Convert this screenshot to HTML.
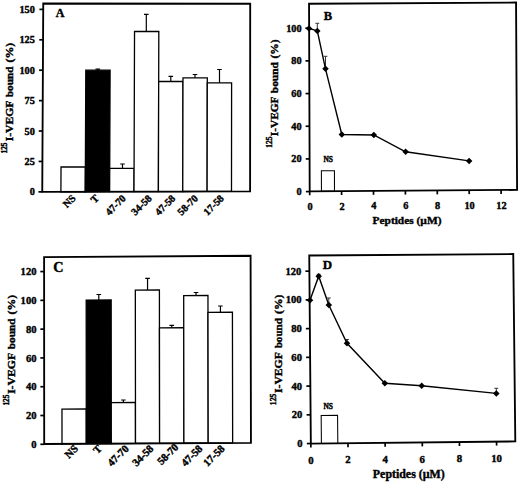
<!DOCTYPE html>
<html><head><meta charset="utf-8"><title>Figure</title>
<style>html,body{margin:0;padding:0;background:#fff;overflow:hidden}svg{display:block}text{font-family:"Liberation Serif",serif;font-weight:bold;fill:#000;stroke:#000;stroke-width:.4px}</style>
</head><body>
<svg width="520" height="482" viewBox="0 0 520 482">
<rect x="0" y="0" width="520" height="482" fill="#fff"/>
<path d="M97.8 71.2V69.2M95.5 69.2H100.1" stroke="#000" stroke-width="1.2" fill="none"/>
<path d="M122.5 169.3V164M120.2 164H124.8" stroke="#000" stroke-width="1.2" fill="none"/>
<path d="M146.3 32.5V14.3M144 14.3H148.6" stroke="#000" stroke-width="1.2" fill="none"/>
<path d="M170.8 82.5V76.3M168.5 76.3H173.1" stroke="#000" stroke-width="1.2" fill="none"/>
<path d="M195 78.8V74.5M192.7 74.5H197.3" stroke="#000" stroke-width="1.2" fill="none"/>
<path d="M219.5 83.8V69.5M217.2 69.5H221.8" stroke="#000" stroke-width="1.2" fill="none"/>
<polygon points="60.9,191.81 61.02,167.02 85.38,166.98 85.27,191.75" fill="#fff" stroke="#000" stroke-width="1.3"/>
<polygon points="85.27,191.75 85.8,70.2 110.1,70.2 109.64,191.69" fill="#000" stroke="#000" stroke-width="1.3"/>
<polygon points="109.64,191.69 109.73,168.32 134.09,168.28 134.01,191.63" fill="#fff" stroke="#000" stroke-width="1.3"/>
<polygon points="134.01,191.63 134.53,31.49 158.81,31.51 158.39,191.57" fill="#fff" stroke="#000" stroke-width="1.3"/>
<polygon points="158.39,191.57 158.68,81.5 182.99,81.5 182.76,191.51" fill="#fff" stroke="#000" stroke-width="1.3"/>
<polygon points="182.76,191.51 182.99,77.8 207.3,77.8 207.13,191.45" fill="#fff" stroke="#000" stroke-width="1.3"/>
<polygon points="207.13,191.45 207.29,82.8 231.6,82.8 231.5,191.39" fill="#fff" stroke="#000" stroke-width="1.3"/>
<polygon points="43.25,3.5 250.2,3.75 250.1,191.35 42.25,191.85" fill="none" stroke="#000" stroke-width="1.85" stroke-linejoin="miter"/>
<line x1="38.45" y1="191.85" x2="42.25" y2="191.85" stroke="#000" stroke-width="1.7"/>
<text x="34.9" y="195.33" font-size="10.3" text-anchor="end">0</text>
<line x1="38.61" y1="161.44" x2="42.41" y2="161.44" stroke="#000" stroke-width="1.7"/>
<text x="34.9" y="164.92" font-size="10.3" text-anchor="end">25</text>
<line x1="38.77" y1="131.03" x2="42.57" y2="131.03" stroke="#000" stroke-width="1.7"/>
<text x="34.9" y="134.51" font-size="10.3" text-anchor="end">50</text>
<line x1="38.93" y1="100.62" x2="42.73" y2="100.62" stroke="#000" stroke-width="1.7"/>
<text x="34.9" y="104.1" font-size="10.3" text-anchor="end">75</text>
<line x1="39.1" y1="70.21" x2="42.9" y2="70.21" stroke="#000" stroke-width="1.7"/>
<text x="34.9" y="73.69" font-size="10.3" text-anchor="end">100</text>
<line x1="39.26" y1="39.8" x2="43.06" y2="39.8" stroke="#000" stroke-width="1.7"/>
<text x="34.9" y="43.28" font-size="10.3" text-anchor="end">125</text>
<line x1="39.42" y1="9.39" x2="43.22" y2="9.39" stroke="#000" stroke-width="1.7"/>
<text x="34.9" y="12.87" font-size="10.3" text-anchor="end">150</text>
<g transform="translate(12.8,0) rotate(-90)" font-size="11.3">
<text x="-153.5" y="-5.9" font-size="7.3" textLength="11" lengthAdjust="spacingAndGlyphs">125</text>
<text x="-141.3" y="0" textLength="40.6" lengthAdjust="spacingAndGlyphs">I-VEGF</text>
<text x="-97.2" y="0" textLength="30.7" lengthAdjust="spacingAndGlyphs">bound</text>
<text x="-62.5" y="0" textLength="19.8" lengthAdjust="spacingAndGlyphs">(%)</text>
</g>
<text x="55.8" y="16.8" font-size="12">A</text>
<text transform="translate(76.2,199) rotate(-45)" font-size="10.3" text-anchor="end">NS</text>
<text transform="translate(99.5,199) rotate(-45)" font-size="10.3" text-anchor="end">T</text>
<text transform="translate(126.5,199) rotate(-45)" font-size="10.3" text-anchor="end">47-70</text>
<text transform="translate(152.3,199) rotate(-45)" font-size="10.3" text-anchor="end">34-58</text>
<text transform="translate(176,199) rotate(-45)" font-size="10.3" text-anchor="end">47-58</text>
<text transform="translate(198.6,199) rotate(-45)" font-size="10.3" text-anchor="end">58-70</text>
<text transform="translate(224.5,199) rotate(-45)" font-size="10.3" text-anchor="end">17-58</text>
<polygon points="321.45,191.27 321.38,170.84 334.43,170.76 334.5,191.18" fill="#fff" stroke="#000" stroke-width="1.05"/>
<polygon points="309.05,3.75 516.05,2.55 517.1,189.9 309.7,191.35" fill="none" stroke="#000" stroke-width="1.85" stroke-linejoin="miter"/>
<line x1="305.9" y1="191.6" x2="309.7" y2="191.6" stroke="#000" stroke-width="1.7"/>
<text x="301.6" y="195.08" font-size="10.3" text-anchor="end">0</text>
<line x1="305.79" y1="158.92" x2="309.59" y2="158.92" stroke="#000" stroke-width="1.7"/>
<text x="301.6" y="162.4" font-size="10.3" text-anchor="end">20</text>
<line x1="305.67" y1="126.24" x2="309.47" y2="126.24" stroke="#000" stroke-width="1.7"/>
<text x="301.6" y="129.72" font-size="10.3" text-anchor="end">40</text>
<line x1="305.56" y1="93.56" x2="309.36" y2="93.56" stroke="#000" stroke-width="1.7"/>
<text x="301.6" y="97.04" font-size="10.3" text-anchor="end">60</text>
<line x1="305.45" y1="60.88" x2="309.25" y2="60.88" stroke="#000" stroke-width="1.7"/>
<text x="301.6" y="64.36" font-size="10.3" text-anchor="end">80</text>
<line x1="305.33" y1="28.2" x2="309.13" y2="28.2" stroke="#000" stroke-width="1.7"/>
<text x="301.6" y="31.68" font-size="10.3" text-anchor="end">100</text>
<line x1="309.7" y1="191.35" x2="309.7" y2="195.25" stroke="#000" stroke-width="1.7"/>
<text x="310.1" y="209.6" font-size="10.3" text-anchor="middle">0</text>
<line x1="341.6" y1="191.13" x2="341.6" y2="195.03" stroke="#000" stroke-width="1.7"/>
<text x="342" y="209.5" font-size="10.3" text-anchor="middle">2</text>
<line x1="373.5" y1="190.9" x2="373.5" y2="194.8" stroke="#000" stroke-width="1.7"/>
<text x="373.9" y="209.41" font-size="10.3" text-anchor="middle">4</text>
<line x1="405.4" y1="190.68" x2="405.4" y2="194.58" stroke="#000" stroke-width="1.7"/>
<text x="405.8" y="209.31" font-size="10.3" text-anchor="middle">6</text>
<line x1="437.3" y1="190.46" x2="437.3" y2="194.36" stroke="#000" stroke-width="1.7"/>
<text x="437.7" y="209.22" font-size="10.3" text-anchor="middle">8</text>
<line x1="469.2" y1="190.23" x2="469.2" y2="194.13" stroke="#000" stroke-width="1.7"/>
<text x="469.6" y="209.12" font-size="10.3" text-anchor="middle">10</text>
<line x1="501.1" y1="190.01" x2="501.1" y2="193.91" stroke="#000" stroke-width="1.7"/>
<text x="501.5" y="209.03" font-size="10.3" text-anchor="middle">12</text>
<g transform="translate(277.5,0) rotate(-90)" font-size="11.3">
<text x="-147.8" y="-5.1" font-size="7.3" textLength="11.3" lengthAdjust="spacingAndGlyphs">125</text>
<text x="-136.2" y="0" textLength="39.7" lengthAdjust="spacingAndGlyphs">I-VEGF</text>
<text x="-93.2" y="0" textLength="31.1" lengthAdjust="spacingAndGlyphs">bound</text>
<text x="-58.5" y="0" textLength="19.15" lengthAdjust="spacingAndGlyphs">(%)</text>
</g>
<text x="323.8" y="19.7" font-size="12.5">B</text>
<text x="328.2" y="161.6" font-size="7.4" text-anchor="middle">NS</text>
<text x="407" y="224" font-size="11.4" text-anchor="middle">Peptides (µM)</text>
<path d="M317.3 31V23.3M315.4 23.3H319.2" stroke="#333" stroke-width="1" fill="none"/>
<path d="M325.5 68.8V56.3M323.6 56.3H327.4" stroke="#333" stroke-width="1" fill="none"/>
<polyline points="309,28.4 317.3,30.9 325.5,68.8 341.8,134.5 373.8,135 405.6,151.8 469.1,160.9" fill="none" stroke="#000" stroke-width="1.4"/>
<path d="M305.75 28.4L309 25.15L312.25 28.4L309 31.65Z" fill="#000"/>
<path d="M314.05 30.9L317.3 27.65L320.55 30.9L317.3 34.15Z" fill="#000"/>
<path d="M322.25 68.8L325.5 65.55L328.75 68.8L325.5 72.05Z" fill="#000"/>
<path d="M338.55 134.5L341.8 131.25L345.05 134.5L341.8 137.75Z" fill="#000"/>
<path d="M370.55 135L373.8 131.75L377.05 135L373.8 138.25Z" fill="#000"/>
<path d="M402.35 151.8L405.6 148.55L408.85 151.8L405.6 155.05Z" fill="#000"/>
<path d="M465.85 160.9L469.1 157.65L472.35 160.9L469.1 164.15Z" fill="#000"/>
<path d="M98.8 301V294.5M96.5 294.5H101.1" stroke="#000" stroke-width="1.2" fill="none"/>
<path d="M123.4 403.5V400M121.1 400H125.7" stroke="#000" stroke-width="1.2" fill="none"/>
<path d="M147.55 291V278.3M145.25 278.3H149.85" stroke="#000" stroke-width="1.2" fill="none"/>
<path d="M171.75 328.8V325.3M169.45 325.3H174.05" stroke="#000" stroke-width="1.2" fill="none"/>
<path d="M196.05 296.5V292.5M193.75 292.5H198.35" stroke="#000" stroke-width="1.2" fill="none"/>
<path d="M220.43 313.3V306M218.12 306H222.73" stroke="#000" stroke-width="1.2" fill="none"/>
<polygon points="62,443.85 61.98,409.07 86.27,408.93 86.3,443.72" fill="#fff" stroke="#000" stroke-width="1.3"/>
<polygon points="86.3,443.72 86.18,300.08 111.16,299.92 111.3,443.58" fill="#000" stroke="#000" stroke-width="1.3"/>
<polygon points="111.3,443.58 111.26,402.57 135.45,402.43 135.5,443.44" fill="#fff" stroke="#000" stroke-width="1.3"/>
<polygon points="135.5,443.44 135.33,290.07 159.4,289.93 159.6,443.31" fill="#fff" stroke="#000" stroke-width="1.3"/>
<polygon points="159.6,443.31 159.45,327.87 183.73,327.73 183.9,443.17" fill="#fff" stroke="#000" stroke-width="1.3"/>
<polygon points="183.9,443.17 183.69,295.57 207.96,295.43 208.2,443.04" fill="#fff" stroke="#000" stroke-width="1.3"/>
<polygon points="208.2,443.04 207.99,312.37 232.42,312.23 232.65,442.9" fill="#fff" stroke="#000" stroke-width="1.3"/>
<polygon points="44.1,257.1 250.6,255.8 250.95,442.8 44.2,443.95" fill="none" stroke="#000" stroke-width="1.85" stroke-linejoin="miter"/>
<line x1="40.35" y1="444.3" x2="44.15" y2="444.3" stroke="#000" stroke-width="1.7"/>
<text x="36.5" y="447.88" font-size="10.6" text-anchor="end">0</text>
<line x1="40.35" y1="415.51" x2="44.15" y2="415.51" stroke="#000" stroke-width="1.7"/>
<text x="36.5" y="419.09" font-size="10.6" text-anchor="end">20</text>
<line x1="40.35" y1="386.72" x2="44.15" y2="386.72" stroke="#000" stroke-width="1.7"/>
<text x="36.5" y="390.3" font-size="10.6" text-anchor="end">40</text>
<line x1="40.35" y1="357.93" x2="44.15" y2="357.93" stroke="#000" stroke-width="1.7"/>
<text x="36.5" y="361.51" font-size="10.6" text-anchor="end">60</text>
<line x1="40.35" y1="329.14" x2="44.15" y2="329.14" stroke="#000" stroke-width="1.7"/>
<text x="36.5" y="332.72" font-size="10.6" text-anchor="end">80</text>
<line x1="40.35" y1="300.35" x2="44.15" y2="300.35" stroke="#000" stroke-width="1.7"/>
<text x="36.5" y="303.93" font-size="10.6" text-anchor="end">100</text>
<line x1="40.35" y1="271.56" x2="44.15" y2="271.56" stroke="#000" stroke-width="1.7"/>
<text x="36.5" y="275.14" font-size="10.6" text-anchor="end">120</text>
<g transform="translate(15.3,0) rotate(-90)" font-size="11.3">
<text x="-405.6" y="-5.9" font-size="7.3" textLength="11.1" lengthAdjust="spacingAndGlyphs">125</text>
<text x="-394.1" y="0" textLength="41.2" lengthAdjust="spacingAndGlyphs">I-VEGF</text>
<text x="-349.3" y="0" textLength="30.9" lengthAdjust="spacingAndGlyphs">bound</text>
<text x="-314.5" y="0" textLength="19.6" lengthAdjust="spacingAndGlyphs">(%)</text>
</g>
<text x="53.2" y="271.6" font-size="14.2">C</text>
<text transform="translate(78.7,449.3) rotate(-45)" font-size="10.8" text-anchor="end">NS</text>
<text transform="translate(102.7,449.3) rotate(-45)" font-size="10.8" text-anchor="end">T</text>
<text transform="translate(129.5,449.3) rotate(-45)" font-size="10.8" text-anchor="end">47-70</text>
<text transform="translate(154.2,449.3) rotate(-45)" font-size="10.8" text-anchor="end">34-58</text>
<text transform="translate(179.2,447.8) rotate(-45)" font-size="10.8" text-anchor="end">58-70</text>
<text transform="translate(203.2,449.3) rotate(-45)" font-size="10.8" text-anchor="end">47-58</text>
<text transform="translate(225.3,449.3) rotate(-45)" font-size="10.8" text-anchor="end">17-58</text>
<polygon points="321.41,443.44 321.17,415.48 337.56,415.32 337.81,443.27" fill="#fff" stroke="#000" stroke-width="1.05"/>
<polygon points="309.25,255.5 513.25,254.05 515.3,441.4 310.85,443.55" fill="none" stroke="#000" stroke-width="1.85" stroke-linejoin="miter"/>
<line x1="306.85" y1="443.55" x2="310.85" y2="443.55" stroke="#000" stroke-width="1.7"/>
<text x="302.5" y="447.13" font-size="10.6" text-anchor="end">0</text>
<line x1="306.61" y1="414.82" x2="310.61" y2="414.82" stroke="#000" stroke-width="1.7"/>
<text x="302.32" y="418.4" font-size="10.6" text-anchor="end">20</text>
<line x1="306.36" y1="386.09" x2="310.36" y2="386.09" stroke="#000" stroke-width="1.7"/>
<text x="302.13" y="389.67" font-size="10.6" text-anchor="end">40</text>
<line x1="306.12" y1="357.36" x2="310.12" y2="357.36" stroke="#000" stroke-width="1.7"/>
<text x="301.95" y="360.94" font-size="10.6" text-anchor="end">60</text>
<line x1="305.87" y1="328.63" x2="309.87" y2="328.63" stroke="#000" stroke-width="1.7"/>
<text x="301.77" y="332.21" font-size="10.6" text-anchor="end">80</text>
<line x1="305.63" y1="299.9" x2="309.63" y2="299.9" stroke="#000" stroke-width="1.7"/>
<text x="301.58" y="303.48" font-size="10.6" text-anchor="end">100</text>
<line x1="305.38" y1="271.17" x2="309.38" y2="271.17" stroke="#000" stroke-width="1.7"/>
<text x="301.4" y="274.75" font-size="10.6" text-anchor="end">120</text>
<line x1="310.85" y1="443.55" x2="310.85" y2="447.55" stroke="#000" stroke-width="1.7"/>
<text x="310.85" y="463.75" font-size="10.8" text-anchor="middle">0</text>
<line x1="348" y1="443.16" x2="348" y2="447.16" stroke="#000" stroke-width="1.7"/>
<text x="348" y="463.36" font-size="10.8" text-anchor="middle">2</text>
<line x1="385.15" y1="442.77" x2="385.15" y2="446.77" stroke="#000" stroke-width="1.7"/>
<text x="385.15" y="462.97" font-size="10.8" text-anchor="middle">4</text>
<line x1="422.3" y1="442.38" x2="422.3" y2="446.38" stroke="#000" stroke-width="1.7"/>
<text x="422.3" y="462.58" font-size="10.8" text-anchor="middle">6</text>
<line x1="459.45" y1="441.99" x2="459.45" y2="445.99" stroke="#000" stroke-width="1.7"/>
<text x="459.45" y="462.19" font-size="10.8" text-anchor="middle">8</text>
<line x1="496.6" y1="441.6" x2="496.6" y2="445.6" stroke="#000" stroke-width="1.7"/>
<text x="496.6" y="461.8" font-size="10.8" text-anchor="middle">10</text>
<g transform="translate(281.7,0) rotate(-90)" font-size="11.3">
<text x="-405.2" y="-5.8" font-size="7.3" textLength="11.7" lengthAdjust="spacingAndGlyphs">125</text>
<text x="-393" y="0" textLength="40.8" lengthAdjust="spacingAndGlyphs">I-VEGF</text>
<text x="-348.3" y="0" textLength="30.2" lengthAdjust="spacingAndGlyphs">bound</text>
<text x="-313.9" y="0" textLength="19.35" lengthAdjust="spacingAndGlyphs">(%)</text>
</g>
<text x="322.8" y="268.9" font-size="13">D</text>
<text x="328.2" y="408.6" font-size="7.4" text-anchor="middle">NS</text>
<text x="408.8" y="478.2" font-size="11.9" text-anchor="middle">Peptides (µM)</text>
<path d="M318.7 276.3V274.3M316.8 274.3H320.6" stroke="#333" stroke-width="1" fill="none"/>
<path d="M328.8 305V298M326.9 298H330.7" stroke="#333" stroke-width="1" fill="none"/>
<path d="M347 343.3V339.5M345.1 339.5H348.9" stroke="#333" stroke-width="1" fill="none"/>
<path d="M496.3 393.4V388.3M494.4 388.3H498.2" stroke="#333" stroke-width="1" fill="none"/>
<polyline points="310,300.3 318.7,276.2 328.8,305 347,343.3 384.8,383.2 421.7,385.8 496.3,393.4" fill="none" stroke="#000" stroke-width="1.4"/>
<path d="M306.75 300.3L310 297.05L313.25 300.3L310 303.55Z" fill="#000"/>
<path d="M315.45 276.2L318.7 272.95L321.95 276.2L318.7 279.45Z" fill="#000"/>
<path d="M325.55 305L328.8 301.75L332.05 305L328.8 308.25Z" fill="#000"/>
<path d="M343.75 343.3L347 340.05L350.25 343.3L347 346.55Z" fill="#000"/>
<path d="M381.55 383.2L384.8 379.95L388.05 383.2L384.8 386.45Z" fill="#000"/>
<path d="M418.45 385.8L421.7 382.55L424.95 385.8L421.7 389.05Z" fill="#000"/>
<path d="M493.05 393.4L496.3 390.15L499.55 393.4L496.3 396.65Z" fill="#000"/>
</svg></body></html>
